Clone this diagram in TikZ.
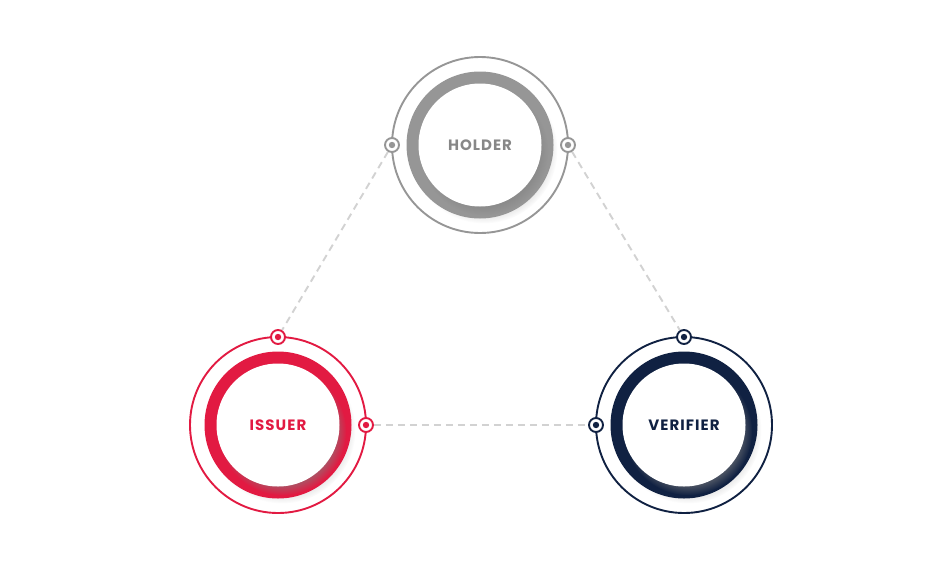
\documentclass[tikz,border=0pt]{standalone}
\usepackage{fontspec}
\setmainfont{Poppins}
\usetikzlibrary{positioning,shadows,backgrounds}
\definecolor{issuerred}{RGB}{226,26,66}
\definecolor{verifiernavy}{RGB}{16,33,66}
\definecolor{holdergray}{RGB}{150,150,150}
\definecolor{linkgray}{RGB}{210,210,210}

\tikzset{
  outer/.style={draw=#1,circle,line width=1.9pt,minimum size=176pt,inner sep=0pt,outer sep=0pt},
  ring/.style={circle,fill=#1,minimum size=147pt,inner sep=0pt,
    circular drop shadow={shadow xshift=4pt,shadow yshift=-5pt,opacity=0.25,shadow scale=1.0}},
  face/.style={circle,fill=white,minimum size=123pt,inner sep=0pt,text=#1,
    font=\bfseries\fontsize{15}{17}\selectfont\addfontfeature{LetterSpace=7},
    circular drop shadow={shadow xshift=4pt,shadow yshift=-6pt,opacity=0.5,shadow scale=1.04}},
  pindot/.style={circle,draw=#1,fill=white,line width=1.9pt,minimum size=14pt,inner sep=0pt,
    path picture={\fill[#1] (path picture bounding box.center) circle (3.2pt);}},
  link/.style={linkgray,line width=1.9pt,dash pattern=on 7pt off 5pt}
}

\begin{document}
\begin{tikzpicture}[x=1pt,y=-1pt]
    \useasboundingbox (0,0) rectangle (936,565);

    % Holder
    \node[outer=holdergray] (holder) at (480,145) {};
    \node[ring=holdergray] (holderring) at (holder) {};
    \node[face=holdergray!90!black] (holderface) at (holder) {HOLDER};

    % Issuer
    \node[outer=issuerred] (issuer) at (278,425) {};
    \node[ring=issuerred] (issuerring) at (issuer) {};
    \node[face=issuerred] (issuerface) at (issuer) {ISSUER};

    % Verifier
    \node[outer=verifiernavy] (verifier) at (684,425) {};
    \node[ring=verifiernavy] (verifierring) at (verifier) {};
    \node[face=verifiernavy] (verifierface) at (verifier) {VERIFIER};

    % Pins on the outer circles
    \node[pindot=holdergray] (holderW) at (holder.west) {};
    \node[pindot=holdergray] (holderE) at (holder.east) {};
    \node[pindot=issuerred] (issuerN) at (issuer.north) {};
    \node[pindot=issuerred] (issuerE) at (issuer.east) {};
    \node[pindot=verifiernavy] (verifierN) at (verifier.north) {};
    \node[pindot=verifiernavy] (verifierW) at (verifier.west) {};

    % Links
    \begin{scope}[on background layer]
      \draw[link] (holderW) -- (issuerN);
      \draw[link] (holderE) -- (verifierN);
      \draw[link] (issuerE) -- (verifierW);
    \end{scope}
\end{tikzpicture}
\end{document}
